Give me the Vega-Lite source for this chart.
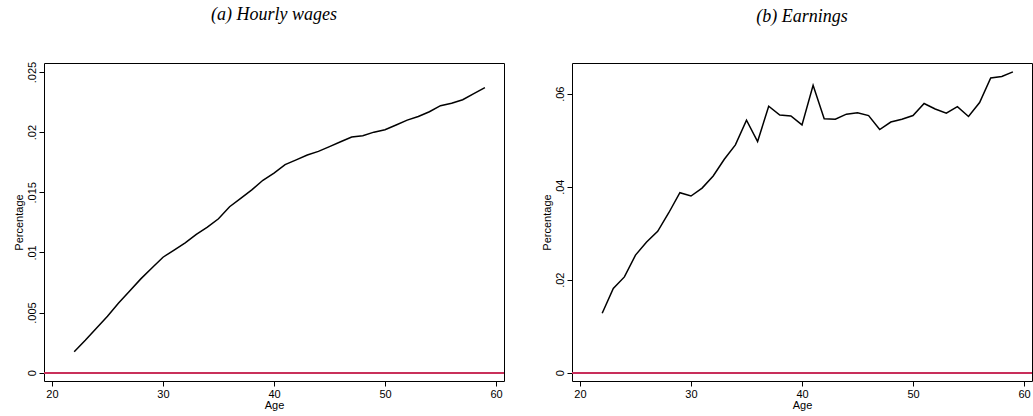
{
  "$schema": "https://vega.github.io/schema/vega-lite/v6.json",
  "padding": {"left": 12, "top": 5, "right": 0, "bottom": 0},
  "spacing": 35,
  "config": {
    "view": {"stroke": "black", "strokeWidth": 1},
    "axis": {"grid": false, "domain": false, "tickColor": "black", "tickSize": 5, "labelFont": "Liberation Sans", "labelFontSize": 11, "labelColor": "black", "titleFont": "Liberation Sans", "titleFontSize": 11, "titleFontWeight": "normal", "titleColor": "black", "labelPadding": 2},
    "title": {"font": "Liberation Serif", "fontSize": 18, "fontWeight": "normal", "fontStyle": "italic", "offset": 37, "color": "black"}
  },
  "datasets": {
    "wages": [
      {"age": 22, "v": 0.00175}, {"age": 23, "v": 0.0027}, {"age": 24, "v": 0.0037}, {"age": 25, "v": 0.0047},
      {"age": 26, "v": 0.0058}, {"age": 27, "v": 0.0068}, {"age": 28, "v": 0.0078}, {"age": 29, "v": 0.0087},
      {"age": 30, "v": 0.0096}, {"age": 31, "v": 0.0102}, {"age": 32, "v": 0.0108}, {"age": 33, "v": 0.0115},
      {"age": 34, "v": 0.0121}, {"age": 35, "v": 0.0128}, {"age": 36, "v": 0.0138}, {"age": 37, "v": 0.0145},
      {"age": 38, "v": 0.0152}, {"age": 39, "v": 0.016}, {"age": 40, "v": 0.0166}, {"age": 41, "v": 0.0173},
      {"age": 42, "v": 0.0177}, {"age": 43, "v": 0.0181}, {"age": 44, "v": 0.0184}, {"age": 45, "v": 0.0188},
      {"age": 46, "v": 0.0192}, {"age": 47, "v": 0.0196}, {"age": 48, "v": 0.0197}, {"age": 49, "v": 0.02},
      {"age": 50, "v": 0.0202}, {"age": 51, "v": 0.0206}, {"age": 52, "v": 0.021}, {"age": 53, "v": 0.0213},
      {"age": 54, "v": 0.0217}, {"age": 55, "v": 0.0222}, {"age": 56, "v": 0.0224}, {"age": 57, "v": 0.0227},
      {"age": 58, "v": 0.0232}, {"age": 59, "v": 0.0237}
    ],
    "earnings": [
      {"age": 22, "v": 0.0128}, {"age": 23, "v": 0.0181}, {"age": 24, "v": 0.0206}, {"age": 25, "v": 0.0253},
      {"age": 26, "v": 0.0281}, {"age": 27, "v": 0.0304}, {"age": 28, "v": 0.0344}, {"age": 29, "v": 0.0387},
      {"age": 30, "v": 0.038}, {"age": 31, "v": 0.0397}, {"age": 32, "v": 0.0423}, {"age": 33, "v": 0.0459},
      {"age": 34, "v": 0.049}, {"age": 35, "v": 0.0543}, {"age": 36, "v": 0.0497}, {"age": 37, "v": 0.0573},
      {"age": 38, "v": 0.0554}, {"age": 39, "v": 0.0552}, {"age": 40, "v": 0.0533}, {"age": 41, "v": 0.0618},
      {"age": 42, "v": 0.0546}, {"age": 43, "v": 0.0545}, {"age": 44, "v": 0.0556}, {"age": 45, "v": 0.0559},
      {"age": 46, "v": 0.0553}, {"age": 47, "v": 0.0523}, {"age": 48, "v": 0.0539}, {"age": 49, "v": 0.0545},
      {"age": 50, "v": 0.0553}, {"age": 51, "v": 0.0579}, {"age": 52, "v": 0.0567}, {"age": 53, "v": 0.0558},
      {"age": 54, "v": 0.0572}, {"age": 55, "v": 0.0551}, {"age": 56, "v": 0.0581}, {"age": 57, "v": 0.0634},
      {"age": 58, "v": 0.0637}, {"age": 59, "v": 0.0647}
    ]
  },
  "hconcat": [
    {
      "width": 460, "height": 318,
      "title": "(a) Hourly wages",
      "data": {"name": "wages"},
      "layer": [
        {
          "mark": {"type": "rule", "color": "#c8305a", "strokeWidth": 1},
          "encoding": {"y": {"datum": 0}}
        },
        {
          "mark": {"type": "line", "color": "black", "strokeWidth": 1.5},
          "encoding": {
            "x": {"field": "age", "type": "quantitative", "title": "Age", "scale": {"domain": [19.28, 60.72], "nice": false, "zero": false}, "axis": {"values": [20, 30, 40, 50, 60], "titlePadding": 0}},
            "y": {"field": "v", "type": "quantitative", "title": "Percentage", "scale": {"domain": [-0.00069, 0.02575], "nice": false}, "axis": {"values": [0, 0.005, 0.01, 0.015, 0.02, 0.025], "labelAngle": -90, "labelAlign": "center", "labelBaseline": "bottom", "labelExpr": "datum.value == 0 ? '0' : replace(format(datum.value, ''), '0.', '.')", "titlePadding": 2}}
          }
        }
      ]
    },
    {
      "width": 460, "height": 318,
      "title": "(b) Earnings",
      "data": {"name": "earnings"},
      "layer": [
        {
          "mark": {"type": "rule", "color": "#c8305a", "strokeWidth": 1},
          "encoding": {"y": {"datum": 0}}
        },
        {
          "mark": {"type": "line", "color": "black", "strokeWidth": 1.5},
          "encoding": {
            "x": {"field": "age", "type": "quantitative", "title": "Age", "scale": {"domain": [19.28, 60.72], "nice": false, "zero": false}, "axis": {"values": [20, 30, 40, 50, 60], "titlePadding": 0}},
            "y": {"field": "v", "type": "quantitative", "title": "Percentage", "scale": {"domain": [-0.00178, 0.0666], "nice": false}, "axis": {"values": [0, 0.02, 0.04, 0.06], "labelAngle": -90, "labelAlign": "center", "labelBaseline": "bottom", "labelExpr": "datum.value == 0 ? '0' : replace(format(datum.value, ''), '0.', '.')", "titlePadding": 2}}
          }
        }
      ]
    }
  ]
}
